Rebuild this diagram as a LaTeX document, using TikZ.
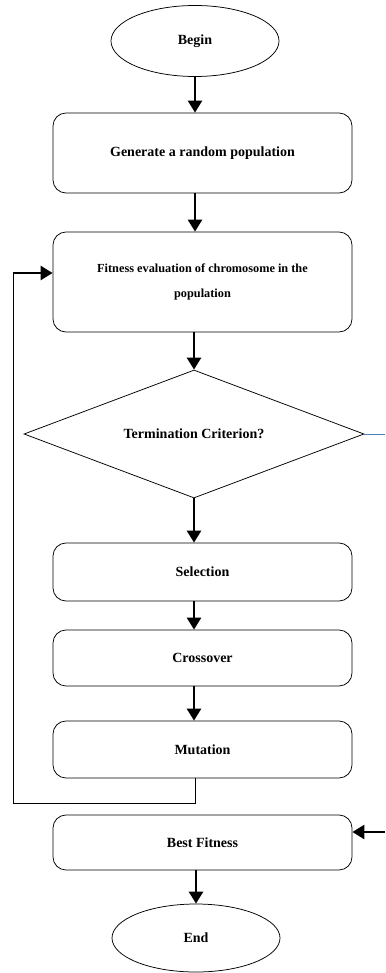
\documentclass[tikz,border=0pt]{standalone}
\usepackage{fontspec}
\setmainfont{Liberation Serif}
\usetikzlibrary{shapes.geometric,arrows.meta}
\definecolor{wordblue}{HTML}{4F81BD}

\begin{document}
\begin{tikzpicture}[x=1pt,y=-1pt, line width=0.75pt,
		txt/.style={font=\bfseries\fontsize{14}{16}\selectfont},
		box/.style={draw, txt, rounded corners=13pt, minimum width=299pt, align=center},
		oval/.style={draw, txt, ellipse, minimum width=168pt, minimum height=71pt},
		go/.style={line width=2.5pt, -{Triangle[width=14pt,length=12pt]}}]
	\useasboundingbox (0,0) rectangle (385,973);
	\node[oval] (begin) at (195,41) {Begin};
	\node[box, minimum height=80pt] (gen) at (202.5,153) {Generate a random population};
	\node[box, minimum height=100pt, font=\bfseries\fontsize{12.3}{25}\selectfont] (fit) at (202.5,282) {Fitness evaluation of chromosome in the\\population};
	\node[draw, txt, diamond, aspect=2.66, inner sep=0pt, minimum width=340pt, minimum height=128pt] (crit) at (194,434) {Termination Criterion?};
	\node[box, minimum height=58pt] (sel) at (202.5,572) {Selection};
	\node[box, minimum height=56pt] (cross) at (202.5,658) {Crossover};
	\node[box, minimum height=57pt] (mut) at (202.5,749.5) {Mutation};
	\node[box, minimum height=55pt] (best) at (202.5,842.5) {Best Fitness};
	\node[oval, minimum height=68pt] (fin) at (196,938) {End};
	\coordinate (lp) at (13,803);
	\coordinate (entry) at ([yshift=9pt]fit.west);
	\coordinate (out) at (385,434);
	\coordinate (back) at (385,832);
	% main line
	\draw[go] (begin) -- (begin |- gen.north);
	\draw[go] (gen.south -| begin) -- (fit.north -| begin);
	\draw[go] (fit.south -| crit) -- (crit);
	\draw[go] (crit) -- (crit |- sel.north);
	\draw[go] (sel.south -| crit) -- (cross.north -| crit);
	\draw[go] (cross.south -| crit) -- (mut.north -| crit);
	\draw[go] (best.south -| fin) -- (fin);
	% loop back to fitness
	\draw (mut.south -| begin) |- (lp) -- (lp |- entry);
	\draw[go] (lp |- entry) -- (entry);
	% exit
	\draw[wordblue, line width=1pt] (crit.east) -- (out);
	\draw[go] (back) -- (best.east |- back);
\end{tikzpicture}
\end{document}
